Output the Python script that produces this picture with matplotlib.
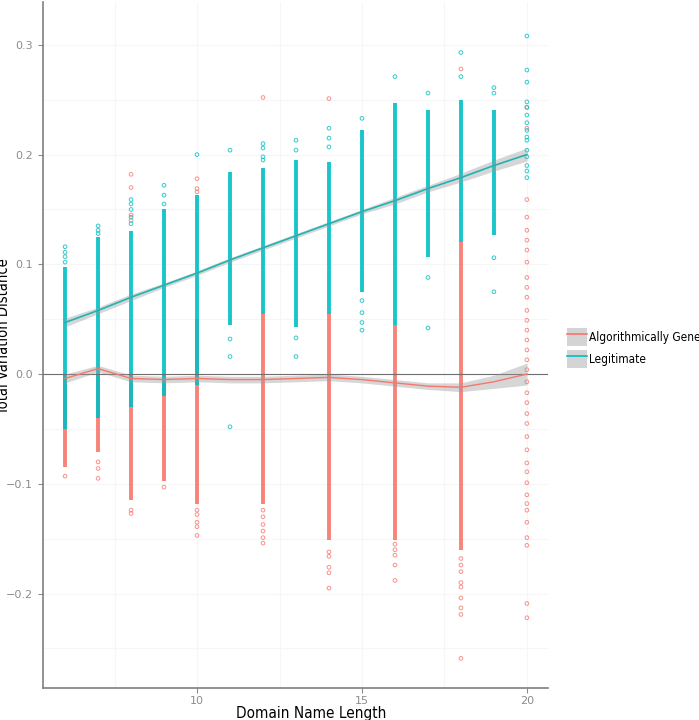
import numpy as np
import matplotlib
matplotlib.use("Agg")
import matplotlib.pyplot as plt
from matplotlib.patches import Patch
from matplotlib.lines import Line2D

# colores estilo ggplot
RED = "#F8766D"
CYAN = "#00BFC4"

# --- Datos ---
# columnas densas: longitud, limite inferior, limite superior
legit_cols = [6, 7, 8, 9, 10, 11, 12, 13, 14, 15, 16, 17, 18, 19]
legit_lo = [-0.050, -0.040, -0.030, -0.020, -0.010, 0.045, 0.055, 0.043, 0.055, 0.075, 0.045, 0.107, 0.120, 0.127]
legit_hi = [0.098, 0.125, 0.130, 0.150, 0.163, 0.184, 0.188, 0.195, 0.193, 0.222, 0.247, 0.241, 0.250, 0.241]

algo_cols = [6, 7, 8, 9, 10, 12, 14, 16, 18]
algo_lo = [-0.085, -0.071, -0.115, -0.097, -0.118, -0.118, -0.151, -0.151, -0.160]
algo_hi = [0.000, 0.000, 0.000, 0.000, 0.050, 0.055, 0.055, 0.045, 0.120]

# puntos sueltos por longitud
legit_pts = {
    6: [0.102, 0.107, 0.111, 0.116],
    7: [0.128, 0.131, 0.135],
    8: [0.137, 0.143, 0.150, 0.155, 0.159],
    9: [0.155, 0.163, 0.172],
    10: [0.200],
    11: [0.204, 0.032, 0.016, -0.048],
    12: [0.210, 0.206, 0.198, 0.195],
    13: [0.213, 0.204, 0.033, 0.016],
    14: [0.224, 0.215, 0.207],
    15: [0.233, 0.067, 0.056, 0.047, 0.040],
    16: [0.271],
    17: [0.256, 0.088, 0.042],
    18: [0.293, 0.271],
    19: [0.261, 0.256, 0.106, 0.075],
    20: [0.308, 0.277, 0.266, 0.248, 0.243, 0.236, 0.229, 0.222, 0.216, 0.213,
         0.204, 0.198, 0.190, 0.185, 0.179],
}
algo_pts = {
    6: [-0.093],
    7: [-0.080, -0.086, -0.095],
    8: [-0.124, -0.127, 0.182, 0.170, 0.145, 0.140],
    9: [-0.103],
    10: [-0.124, -0.128, -0.135, -0.139, -0.147, 0.178, 0.169, 0.166],
    12: [-0.124, -0.130, -0.137, -0.143, -0.149, -0.154, 0.252],
    14: [-0.162, -0.166, -0.176, -0.181, -0.195, 0.251],
    16: [-0.155, -0.160, -0.165, -0.174, -0.188],
    18: [-0.168, -0.174, -0.180, -0.190, -0.194, -0.204, -0.213, -0.219, -0.259, 0.278],
    20: [0.243, 0.224, 0.159, 0.143, 0.131, 0.122, 0.113, 0.102, 0.088, 0.079, 0.070,
         0.058, 0.049, 0.040, 0.031, 0.022, 0.013, 0.004, -0.007, -0.017, -0.026,
         -0.036, -0.045, -0.057, -0.069, -0.081, -0.089, -0.099, -0.110, -0.118,
         -0.124, -0.135, -0.149, -0.156, -0.209, -0.222],
}

# curvas de ajuste
fit_x = [6, 7, 8, 9, 10, 11, 12, 13, 14, 15, 16, 17, 18, 19, 20]
legit_fit = [0.047, 0.058, 0.070, 0.081, 0.092, 0.104, 0.115, 0.126, 0.137, 0.148, 0.158, 0.169, 0.179, 0.190, 0.200]
legit_se = [0.004, 0.003, 0.003, 0.002, 0.002, 0.002, 0.002, 0.002, 0.002, 0.002, 0.003, 0.003, 0.004, 0.005, 0.006]
algo_fit = [-0.004, 0.005, -0.004, -0.005, -0.004, -0.005, -0.005, -0.004, -0.003, -0.005, -0.008, -0.011, -0.012, -0.007, 0.000]
algo_se = [0.004, 0.003, 0.003, 0.003, 0.003, 0.003, 0.003, 0.003, 0.003, 0.003, 0.003, 0.003, 0.004, 0.006, 0.010]

y_ticks = [-0.2, -0.1, 0.0, 0.1, 0.2, 0.3]
x_ticks = [10, 15, 20]


def flatten(d):
    xs, ys = [], []
    for k, vals in d.items():
        xs += [k] * len(vals)
        ys += vals
    return xs, ys


# --- Grafico ---
fig = plt.figure(figsize=(6.99, 7.2), dpi=100)
ax = fig.add_axes([43 / 699, 1 - 688 / 720, (548 - 43) / 699, (688 - 2) / 720])

font = ["DejaVu Sans"]

for y in [-0.25, -0.15, -0.05, 0.05, 0.15, 0.25] + y_ticks:
    ax.axhline(y, color="#f6f6f6", lw=0.8, zorder=0)
for x in [7.5, 12.5, 17.5] + x_ticks:
    ax.axvline(x, color="#f6f6f6", lw=0.8, zorder=0)

# columnas densas
ax.vlines(algo_cols, algo_lo, algo_hi, color=RED, lw=2.8, alpha=0.9, zorder=2)
ax.vlines(legit_cols, legit_lo, legit_hi, color=CYAN, lw=2.8, alpha=0.9, zorder=3)

# puntos sueltos
ax_x, ax_y = flatten(algo_pts)
lx, ly = flatten(legit_pts)
ax.scatter(ax_x, ax_y, s=7, facecolors="none", edgecolors=RED, linewidths=0.7, alpha=0.8, zorder=2)
ax.scatter(lx, ly, s=7, facecolors="none", edgecolors=CYAN, linewidths=0.7, alpha=0.8, zorder=3)

ax.axhline(0, color="#6e6e6e", lw=0.8, zorder=4)

# bandas y curvas
fx = np.array(fit_x)
lf, ls = np.array(legit_fit), np.array(legit_se)
af, aS = np.array(algo_fit), np.array(algo_se)
ax.fill_between(fx, lf - ls, lf + ls, color="#999999", alpha=0.4, lw=0, zorder=5)
ax.plot(fx, lf, color="#1fb3b3", lw=1.2, zorder=6)
ax.fill_between(fx, af - aS, af + aS, color="#999999", alpha=0.4, lw=0, zorder=5)
ax.plot(fx, af, color=RED, lw=1.0, zorder=6)

ax.set_xlim(5.33, 20.64)
ax.set_ylim(-0.286, 0.339)
ax.set_xticks(x_ticks)
ax.set_yticks(y_ticks)
ax.set_xticklabels([str(t) for t in x_ticks])
ax.set_yticklabels(["\u22120.2", "\u22120.1", "0.0", "0.1", "0.2", "0.3"])
ax.tick_params(colors="#8c8c8c", labelsize=8, length=3.5, width=0.8)
ax.tick_params(axis="x", pad=2.5)
for lab in ax.get_xticklabels() + ax.get_yticklabels():
    lab.set_color("#8c8c8c")
for s in ["top", "right"]:
    ax.spines[s].set_visible(False)
for s in ["left", "bottom"]:
    ax.spines[s].set_color("#7f7f7f")
    ax.spines[s].set_linewidth(1.2)

fig.text(311 / 699, 1 - 706 / 720, "Domain Name Length", ha="center", va="top",
         fontsize=11, family=font, stretch="condensed")
fig.text(4 / 699, 1 - 336 / 720, "Total Variation Distance", ha="center", va="center",
         rotation=90, fontsize=10.5, family=font, stretch="condensed")

# leyenda
handles = [(Patch(facecolor="#d4d4d4", edgecolor="none"), Line2D([], [], color=RED, lw=1.2)),
           (Patch(facecolor="#d4d4d4", edgecolor="none"), Line2D([], [], color=CYAN, lw=1.2))]
leg = fig.legend(handles, ["Algorithmically Generated", "Legitimate"],
                 loc="center left", bbox_to_anchor=(556 / 699, 1 - 348 / 720),
                 frameon=False, handlelength=1.7, handleheight=2.0, handletextpad=0.2,
                 labelspacing=0.3, prop={"family": font, "size": 8.5, "stretch": "condensed"})

fig.savefig("out.png", dpi=100)
